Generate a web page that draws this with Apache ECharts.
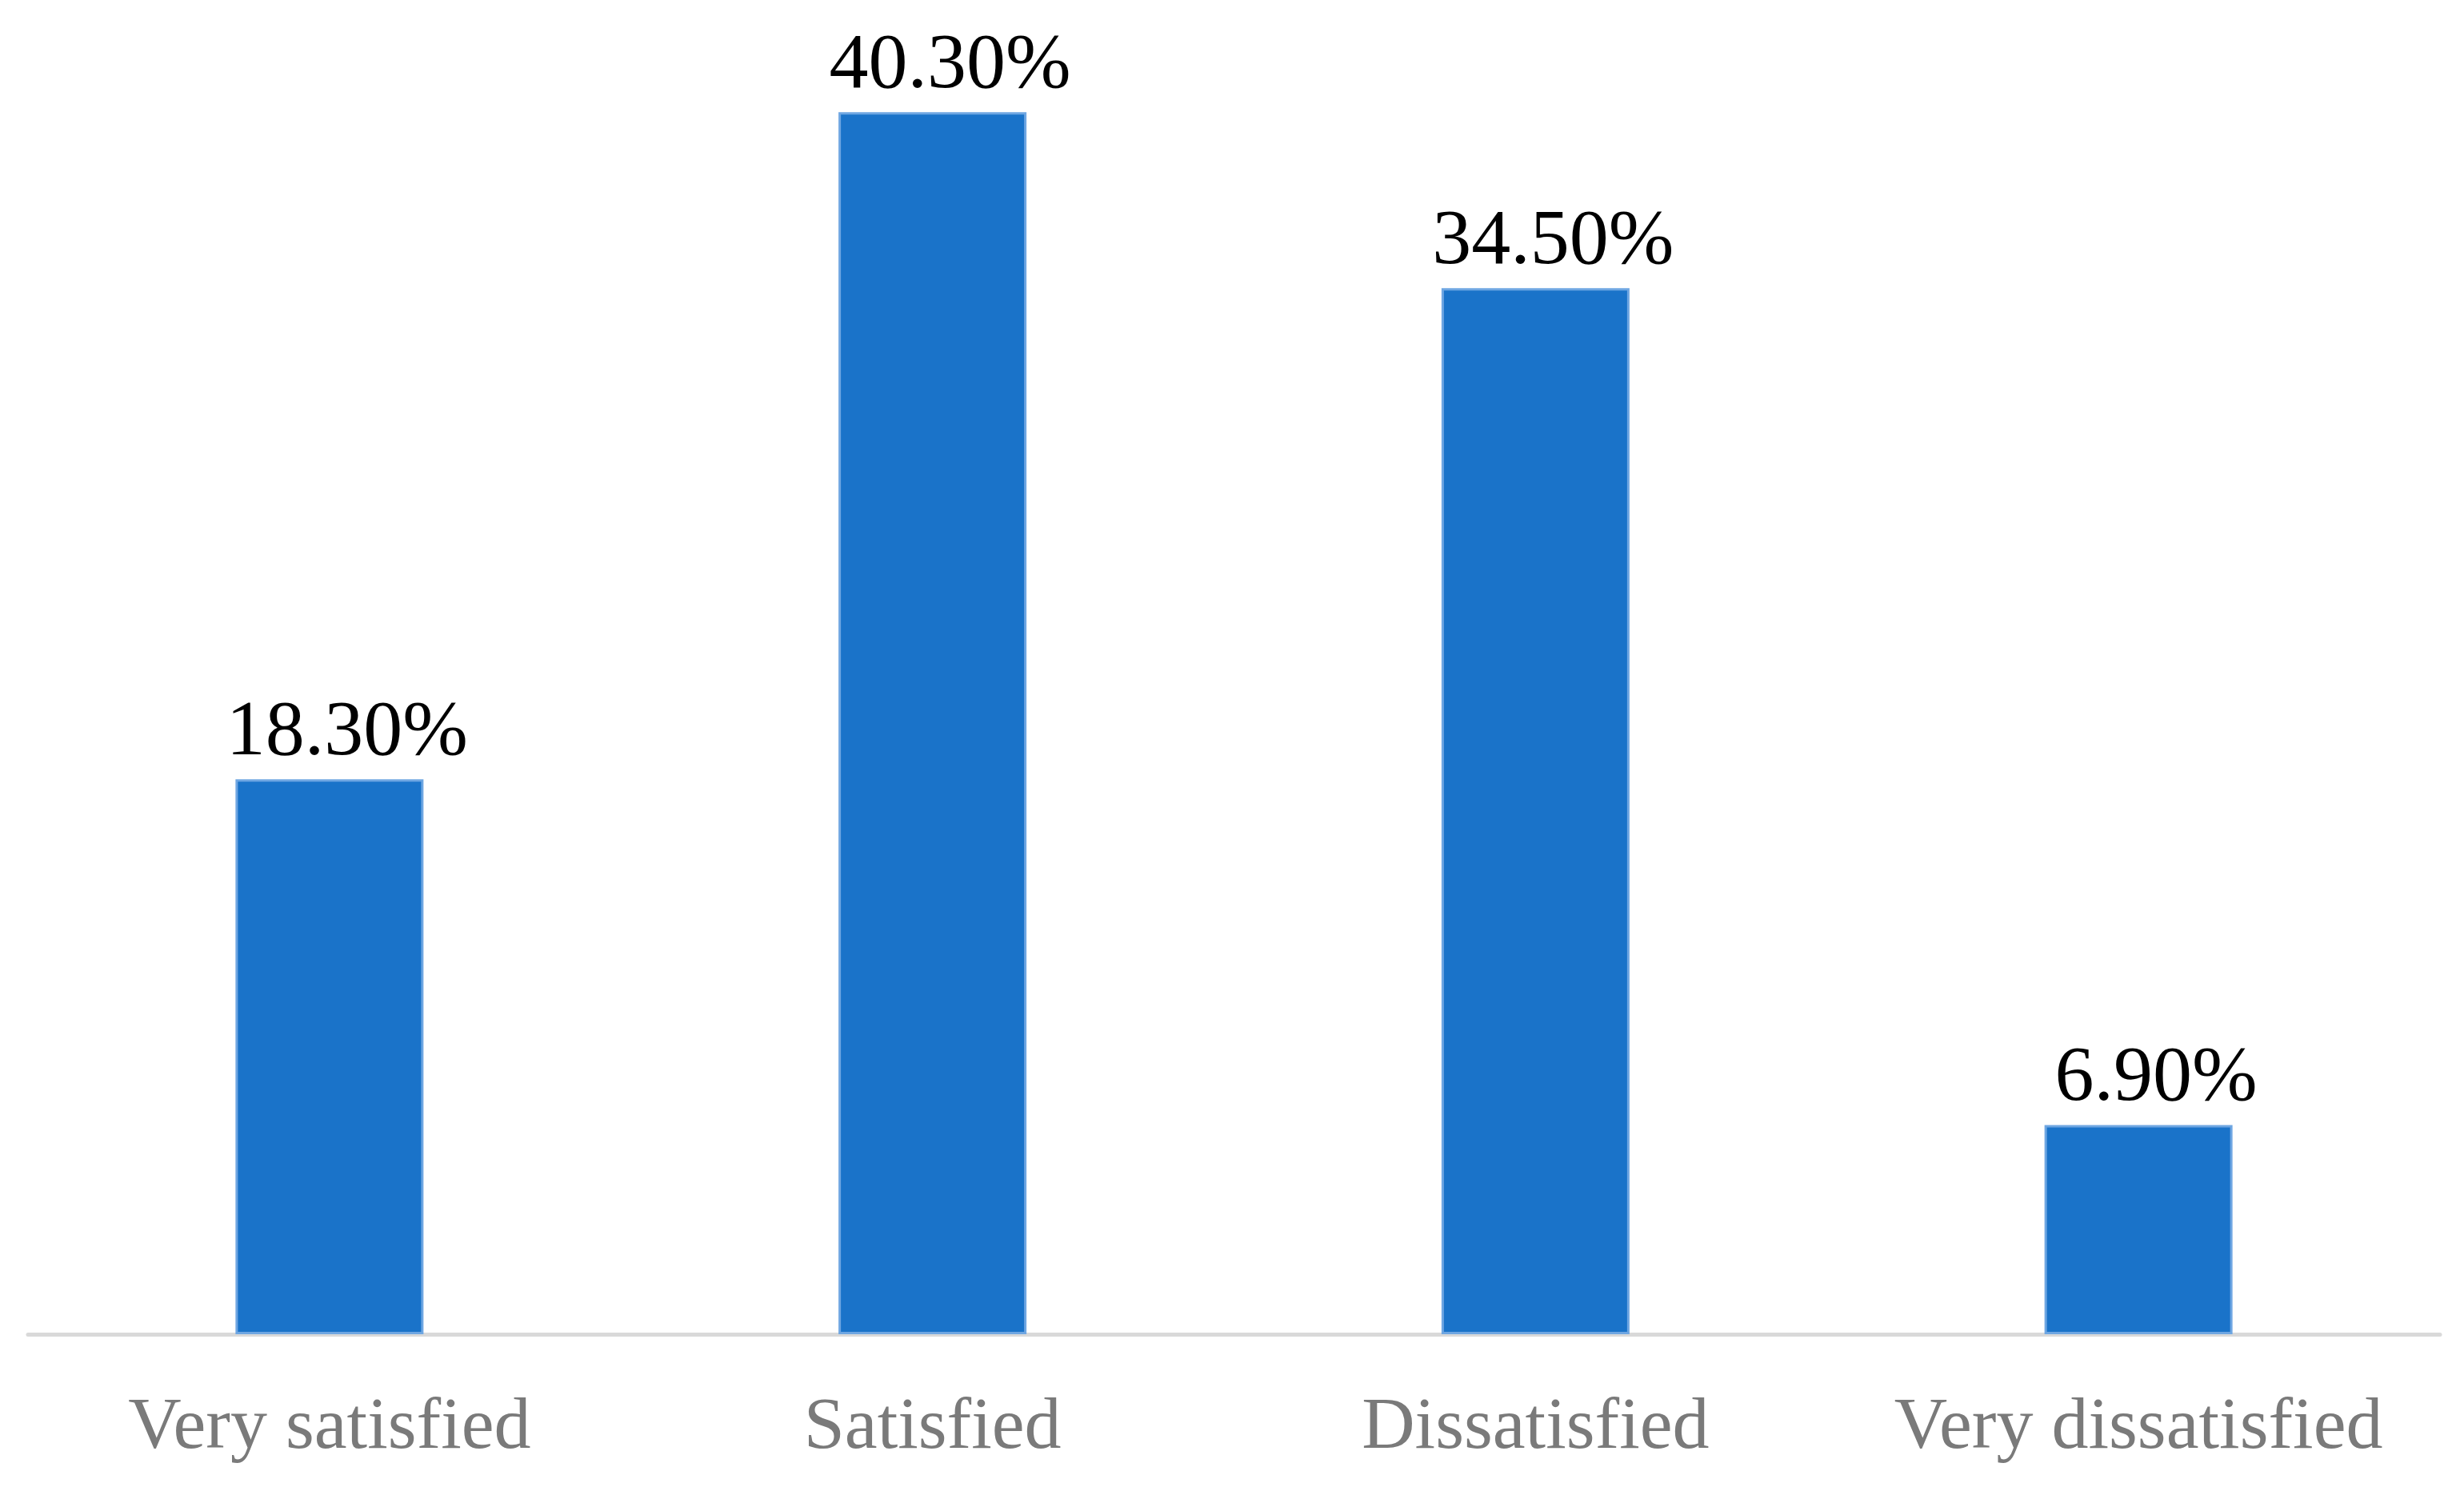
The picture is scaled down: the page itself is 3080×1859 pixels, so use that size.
<!DOCTYPE html>
<html><head><meta charset="utf-8">
<script src="https://cdn.jsdelivr.net/npm/echarts@6/dist/echarts.min.js"></script>
<style>html,body{margin:0;padding:0;background:#fff}#c{width:3080px;height:1859px}</style>
</head><body><div id="c"></div>
<script>
const categories = ['Very satisfied', 'Satisfied', 'Dissatisfied', 'Very dissatisfied'];
const values = [18.3, 40.3, 34.5, 6.9];

const chart = echarts.init(document.getElementById('c'));
chart.setOption({
  animation: false,
  backgroundColor: '#ffffff',
  grid: { left: 35, right: 30, top: 0, bottom: 191, containLabel: false },
  xAxis: {
    type: 'category',
    data: categories,
    axisLine: { show: true, lineStyle: { color: '#d9d9d9', width: 5 } },
    axisTick: { show: false },
    axisLabel: { interval: 0, color: '#7a7a7a', fontFamily: 'Liberation Serif', fontSize: 92, margin: 72 }
  },
  yAxis: {
    type: 'value', min: 0, max: 44,
    show: false,
    splitLine: { show: false }
  },
  series: [{
    type: 'bar',
    data: values,
    barWidth: 235,
    itemStyle: { color: '#1a73c9', borderColor: '#6ea6e2', borderWidth: 3 },
    label: {
      show: true, position: 'top', distance: 8, offset: [22, 0],
      color: '#000', fontFamily: 'Liberation Serif', fontSize: 98,
      formatter: p => p.value.toFixed(2) + '%'
    }
  }]
});
</script></body></html>
